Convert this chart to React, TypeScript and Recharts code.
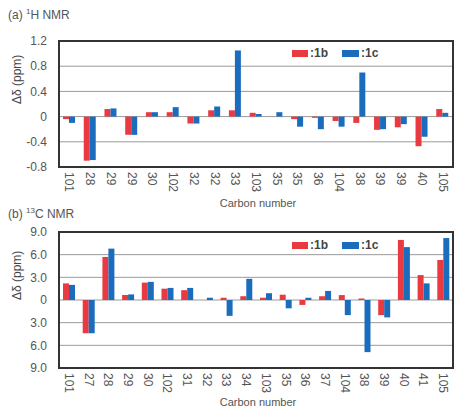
import { BarChart, Bar, XAxis, YAxis, CartesianGrid, ReferenceArea } from 'recharts'

// (a) 1H NMR
const hCarbons = ['101', '28', '29', '29', '30', '102', '32', '32', '33', '103', '35', '35', '36', '104', '38', '39', '39', '40', '105']
const h1b = [-0.04, -0.7, 0.12, -0.29, 0.07, 0.07, -0.11, 0.1, 0.1, 0.06, 0, -0.04, -0.02, -0.07, -0.1, -0.21, -0.17, -0.47, 0.12]
const h1c = [-0.1, -0.69, 0.13, -0.29, 0.07, 0.15, -0.11, 0.16, 1.05, 0.04, 0.07, -0.16, -0.2, -0.16, 0.7, -0.2, -0.12, -0.32, 0.06]
const hTicks = [-0.8, -0.4, 0, 0.4, 0.8, 1.2]

// (b) 13C NMR
const cCarbons = ['101', '27', '28', '29', '30', '102', '31', '32', '33', '34', '103', '35', '36', '37', '104', '38', '39', '40', '41', '105']
const c1b = [2.2, -4.4, 5.7, 0.65, 2.3, 1.5, 1.3, 0, 0.3, 0.5, 0.3, 0.7, -0.65, 0.5, 0.65, 0.2, -2.0, 7.95, 3.3, 5.3]
const c1c = [2.0, -4.4, 6.8, 0.74, 2.4, 1.6, 1.6, 0.3, -2.1, 2.8, 0.9, -1.1, 0.3, 1.2, -2.0, -6.9, -2.3, 7.0, 2.2, 8.2]
const cTicks = [-9, -6, -3, 0, 3, 6, 9]

const RED = '#e83a40'
const BLUE = '#1b6cbc'
const FONT = '"Liberation Sans", Arial, sans-serif'
const TEXT = '#555'

const RotTick = ({ x, y, payload }: any) => (
  <text
    x={x}
    y={y}
    transform={`rotate(90 ${x} ${y})`}
    textAnchor="start"
    dominantBaseline="central"
    fill={TEXT}
    fontSize={12}
    fontFamily={FONT}
  >
    {payload.value}
  </text>
)

const LegendBox = ({ top }: { top: number }) => (
  <div
    style={{
      position: 'absolute',
      left: 292,
      top,
      display: 'flex',
      alignItems: 'center',
      fontFamily: FONT,
      fontSize: 12,
      fontWeight: 'bold',
      color: '#444',
    }}
  >
    <span style={{ width: 16, height: 7, background: RED, display: 'inline-block' }} />
    <span style={{ marginLeft: 2, marginRight: 14 }}>:1b</span>
    <span style={{ width: 17, height: 7, background: BLUE, display: 'inline-block' }} />
    <span style={{ marginLeft: 2 }}>:1c</span>
  </div>
)

interface PanelProps {
  carbons: string[]
  b: number[]
  c: number[]
  ticks: number[]
  fmt: (v: number) => string
  height: number
  axisH: number
  labelOffset: number
}

function Panel({ carbons, b, c, ticks, fmt, height, axisH, labelOffset }: PanelProps) {
  const data = carbons.map((label, i) => ({ label, b: b[i], c: c[i] }))
  const lo = ticks[0]
  const hi = ticks[ticks.length - 1]
  return (
    <BarChart
      width={457}
      height={height}
      data={data}
      margin={{ top: 41, right: 4, left: 0, bottom: 0 }}
      barGap={0}
      barSize={6}
    >
      <CartesianGrid vertical={false} stroke="#9a9a9a" strokeWidth={1} />
      <XAxis
        dataKey="label"
        height={axisH}
        axisLine={false}
        tickLine={false}
        tickSize={0}
        tickMargin={5}
        interval={0}
        tick={<RotTick />}
        label={{ value: 'Carbon number', position: 'insideBottom', offset: labelOffset, fill: TEXT, fontSize: 11, fontFamily: FONT, dx: 2 }}
      />
      <YAxis
        type="number"
        domain={[lo, hi]}
        ticks={ticks}
        interval={0}
        width={59}
        axisLine={false}
        tickLine={false}
        tickMargin={6}
        tickFormatter={fmt}
        tick={{ fill: TEXT, fontSize: 12, fontFamily: FONT }}
        label={{ value: 'Δδ (ppm)', angle: -90, position: 'insideLeft', offset: 17, fill: '#444', fontSize: 12, fontFamily: FONT }}
      />
      <Bar dataKey="b" name="1b" fill={RED} isAnimationActive={false} />
      <Bar dataKey="c" name="1c" fill={BLUE} isAnimationActive={false} />
      <ReferenceArea y1={lo} y2={hi} fill="none" stroke="#333" strokeWidth={2} ifOverflow="visible" />
    </BarChart>
  )
}

const fmtH = (v: number) => (v === 0 ? '0' : v.toFixed(1))
const fmtC = (v: number) => (v === 0 ? '0' : Math.abs(v).toFixed(1))

const titleStyle: React.CSSProperties = {
  position: 'absolute',
  left: 8,
  fontFamily: FONT,
  fontSize: 12,
  color: TEXT,
  whiteSpace: 'nowrap',
}

export default function App() {
  return (
    <div style={{ position: 'absolute', left: 0, top: 0, width: 457, height: 410, background: '#fff', overflow: 'hidden' }}>
      <div style={{ position: 'absolute', left: 0, top: 0 }}>
        <Panel carbons={hCarbons} b={h1b} c={h1c} ticks={hTicks} fmt={fmtH} height={212} axisH={45} labelOffset={5} />
      </div>
      <div style={{ position: 'absolute', left: 0, top: 191 }}>
        <Panel carbons={cCarbons} b={c1b} c={c1c} ticks={cTicks} fmt={fmtC} height={218} axisH={41} labelOffset={3} />
      </div>
      <LegendBox top={46} />
      <LegendBox top={238} />
      <div style={{ ...titleStyle, top: 7 }}>
        (a) <sup style={{ fontSize: 8 }}>1</sup>H NMR
      </div>
      <div style={{ ...titleStyle, top: 206 }}>
        (b) <sup style={{ fontSize: 8 }}>13</sup>C NMR
      </div>
    </div>
  )
}
